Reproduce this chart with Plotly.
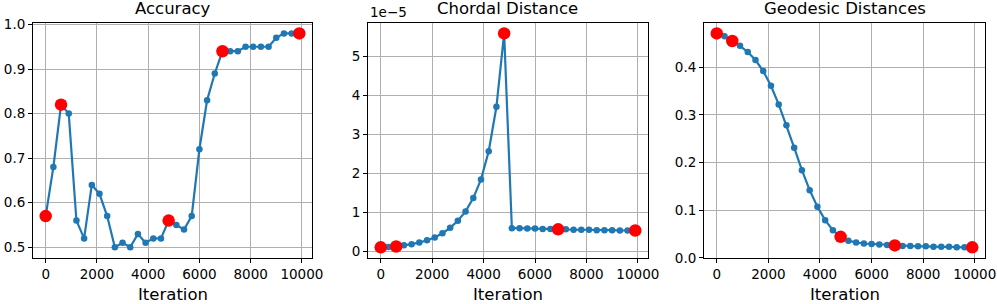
import plotly.graph_objects as go

iterations = list(range(0, 10000, 300))

accuracy = [0.57, 0.68, 0.82, 0.80, 0.56, 0.52, 0.64, 0.62, 0.57, 0.50,
            0.51, 0.50, 0.53, 0.51, 0.52, 0.52, 0.56, 0.55, 0.54, 0.57,
            0.72, 0.83, 0.89, 0.94, 0.94, 0.94, 0.95, 0.95, 0.95, 0.95,
            0.97, 0.98, 0.98, 0.98]

chordal_e5 = [0.10, 0.11, 0.12, 0.15, 0.18, 0.22, 0.28, 0.35, 0.46, 0.60,
              0.78, 1.02, 1.36, 1.84, 2.56, 3.70, 5.58, 0.59, 0.59, 0.58,
              0.58, 0.57, 0.57, 0.56, 0.56, 0.55, 0.55, 0.55, 0.54, 0.54,
              0.54, 0.53, 0.53, 0.53]
chordal = [v * 1e-5 for v in chordal_e5]

geodesic = [0.471, 0.465, 0.455, 0.445, 0.432, 0.415, 0.392, 0.361, 0.322, 0.278,
            0.231, 0.184, 0.142, 0.107, 0.079, 0.058, 0.044, 0.036, 0.032, 0.030,
            0.029, 0.028, 0.027, 0.026, 0.025, 0.025, 0.024, 0.024, 0.023, 0.023,
            0.023, 0.022, 0.022, 0.022]

highlight_idx = [0, 2, 16, 23, 33]

titles = ["Accuracy", "Chordal Distance", "Geodesic Distances"]
x_tick_vals = [0, 2000, 4000, 6000, 8000, 10000]
x_tick_text = ["0", "2000", "4000", "6000", "8000", "10000"]

acc_ticks = [0.5, 0.6, 0.7, 0.8, 0.9, 1.0]
acc_tick_text = ["0.5", "0.6", "0.7", "0.8", "0.9", "1.0"]
chord_ticks = [0, 1e-5, 2e-5, 3e-5, 4e-5, 5e-5]
chord_tick_text = ["0", "1", "2", "3", "4", "5"]
geo_ticks = [0.0, 0.1, 0.2, 0.3, 0.4]
geo_tick_text = ["0.0", "0.1", "0.2", "0.3", "0.4"]

W, H = 997, 304
FONT = "DejaVu Sans"
BLUE = "#1f77b4"

panels_px = [(33, 312), (368, 648), (704, 985)]
top_px, bottom_px = 22.7, 258
ydom = [(H - bottom_px) / H, (H - top_px) / H]

series = [accuracy, chordal, geodesic]
yticks = [(acc_ticks, acc_tick_text), (chord_ticks, chord_tick_text), (geo_ticks, geo_tick_text)]


def pad_range(vals):
    lo, hi = min(vals), max(vals)
    m = (hi - lo) * 0.05
    return [lo - m, hi + m]


xr = pad_range(iterations)

fig = go.Figure()
annotations = []
for i, ys in enumerate(series):
    sfx = "" if i == 0 else str(i + 1)
    xa, ya = "x" + sfx, "y" + sfx
    fig.add_trace(go.Scatter(
        x=iterations, y=ys, mode="lines+markers", xaxis=xa, yaxis=ya,
        line=dict(color=BLUE, width=2.2), marker=dict(color=BLUE, size=6.5),
        showlegend=False, hoverinfo="skip"))
    fig.add_trace(go.Scatter(
        x=[iterations[k] for k in highlight_idx], y=[ys[k] for k in highlight_idx],
        mode="markers", xaxis=xa, yaxis=ya,
        marker=dict(color="red", size=12.5), showlegend=False, hoverinfo="skip"))

    x0, x1 = panels_px[i]
    common = dict(showline=True, mirror=True, linecolor="black", linewidth=1,
                  showgrid=True, gridcolor="#b0b0b0", gridwidth=1, zeroline=False,
                  ticks="outside", ticklen=4, tickcolor="black", tickwidth=1,
                  automargin=False,
                  tickfont=dict(family=FONT, size=13.5, color="black"))
    fig.layout["xaxis" + sfx] = dict(
        domain=[x0 / W, x1 / W], anchor=ya, range=xr,
        tickvals=x_tick_vals, ticktext=x_tick_text, **common)
    tv, tt = yticks[i]
    fig.layout["yaxis" + sfx] = dict(
        domain=ydom, anchor=xa, range=pad_range(ys),
        tickvals=tv, ticktext=tt, **common)

    cx = (x0 + x1) / 2 / W
    annotations.append(dict(text=titles[i], x=cx, y=1 - 9 / H, xref="paper", yref="paper",
                            xanchor="center", yanchor="middle", showarrow=False,
                            font=dict(family=FONT, size=16.5, color="black")))
    annotations.append(dict(text="Iteration", x=cx, y=(H - 294) / H, xref="paper", yref="paper",
                            xanchor="center", yanchor="middle", showarrow=False,
                            font=dict(family=FONT, size=16.5, color="black")))

annotations.append(dict(text="1e\u22125", x=368 / W, y=1 - 12 / H, xref="paper", yref="paper",
                        xanchor="left", yanchor="middle", showarrow=False,
                        font=dict(family=FONT, size=13.5, color="black")))

fig.update_layout(width=W, height=H, margin=dict(l=0, r=0, t=0, b=0),
                  paper_bgcolor="white", plot_bgcolor="white",
                  annotations=annotations)

fig.write_html("out.html", config={"displayModeBar": False},
               post_script="document.body.style.margin='0';document.body.style.overflow='hidden';")
